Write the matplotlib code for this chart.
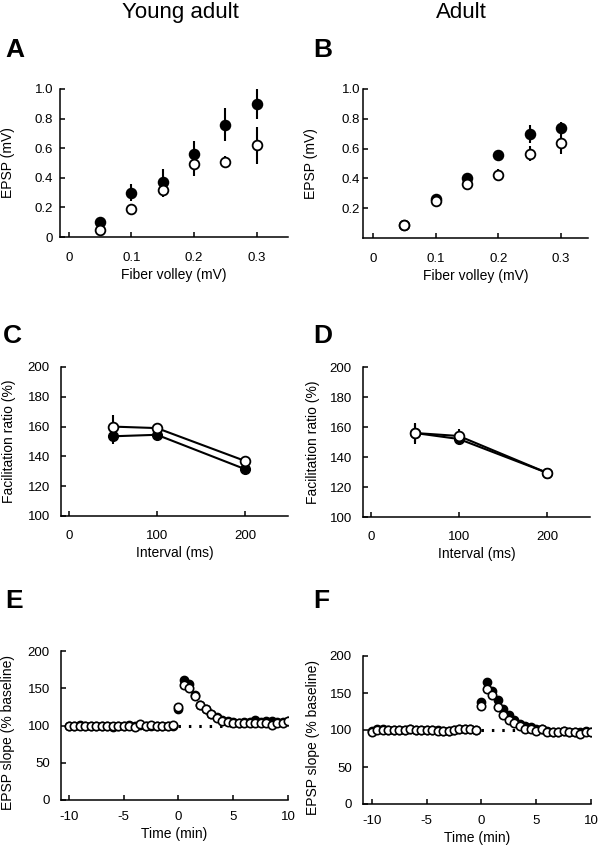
import numpy as np
import matplotlib
matplotlib.use("Agg")
import matplotlib.pyplot as plt

plt.rcParams['font.family'] = ['Liberation Sans', 'DejaVu Sans']
plt.rcParams['axes.unicode_minus'] = False

# --- data ---
fv = [0.05, 0.10, 0.15, 0.20, 0.25, 0.30]
# A: young adult, EPSP vs fiber volley
a_closed = [0.10, 0.30, 0.37, 0.56, 0.76, 0.90]
a_closed_err = [0.01, 0.055, 0.088, 0.09, 0.11, 0.105]
a_open = [0.05, 0.19, 0.32, 0.49, 0.51, 0.62]
a_open_err = [0.01, 0.015, 0.05, 0.08, 0.04, 0.125]
# B: adult
b_closed = [0.09, 0.26, 0.405, 0.56, 0.70, 0.74]
b_closed_err = [0.01, 0.02, 0.02, 0.03, 0.06, 0.04]
b_open = [0.09, 0.245, 0.36, 0.425, 0.565, 0.635]
b_open_err = [0.01, 0.02, 0.04, 0.04, 0.05, 0.07]

# C/D: paired-pulse facilitation
interval = [50, 100, 200]
c_closed = [153.5, 154.5, 131.5]
c_closed_err = [5, 3, 3]
c_open = [160, 159, 137]
c_open_err = [7.5, 3, 2]
d_closed = [156, 152, 129.5]
d_closed_err = [6, 3, 2]
d_open = [156, 154, 129.5]
d_open_err = [7, 5, 2]

# E/F: LTP time course, one point every 30 s
t = np.arange(-10, 10.5, 0.5)
e_open = [99, 99, 100, 100, 100, 100, 99, 99, 100, 100,
          100, 100, 98, 102, 100, 101, 100, 99, 100, 101,
          125, 154, 150, 140, 127, 122, 115, 110, 106, 105,
          104, 104, 104, 104, 104, 104, 103, 101, 104, 104, 106]
e_closed = [99, 100, 101, 100, 100, 99, 99, 100, 98, 100,
            100, 101, 99, 101, 100, 100, 100, 100, 99, 100,
            122, 161, 156, 141, 128, 122, 116, 111, 107, 106,
            105, 104, 105, 105, 108, 105, 106, 106, 105, 105, 106]
f_open = [97, 100, 100, 100, 100, 100, 100, 101, 100, 100,
          100, 100, 99, 99, 99, 100, 101, 101, 101, 100,
          132, 155, 147, 131, 120, 114, 109, 105, 101, 101,
          99, 101, 97, 97, 97, 98, 97, 97, 95, 97, 97]
f_closed = [98, 101, 101, 100, 100, 100, 100, 102, 100, 100,
            100, 100, 100, 99, 99, 100, 101, 101, 101, 100,
            138, 165, 153, 140, 128, 120, 114, 108, 106, 104,
            101, 101, 98, 97, 97, 98, 97, 97, 97, 98, 97]

W, H = 598, 852
fig = plt.figure(figsize=(W / 100, H / 100), dpi=100)

TICK = 9.5
LAB = 10


def add_ax(l, r, top, bot):
    return fig.add_axes([l / W, 1 - bot / H, (r - l) / W, (bot - top) / H])


def style(ax, xpad, ypad):
    for s in ['top', 'right']:
        ax.spines[s].set_visible(False)
    for s in ['left', 'bottom']:
        ax.spines[s].set_linewidth(1.1)
    ax.tick_params(direction='in', length=3.5, width=1.1, labelsize=TICK)
    ax.tick_params(axis='x', pad=xpad)
    ax.tick_params(axis='y', pad=ypad)


def errpts(ax, x, y, e, face, ms=7):
    ax.errorbar(x, y, yerr=e, fmt='none', ecolor='black', elinewidth=1.5, capsize=0)
    ax.plot(x, y, 'o', mfc=face, mec='black', mew=1.3, ms=ms, ls='none')


# A
axA = add_ax(60, 288, 89, 237)
errpts(axA, fv, a_closed, a_closed_err, 'black')
errpts(axA, fv, a_open, a_open_err, 'white')
axA.set_xlim(-0.014, 0.35)
axA.set_ylim(0, 1.0)
axA.set_xticks([0, 0.1, 0.2, 0.3])
axA.set_xticklabels(['0', '0.1', '0.2', '0.3'])
axA.set_yticks([0, 0.2, 0.4, 0.6, 0.8, 1.0])
axA.set_yticklabels(['0', '0.2', '0.4', '0.6', '0.8', '1.0'])
style(axA, 11, 5)

# B
axB = add_ax(363, 588, 89, 238)
errpts(axB, fv, b_closed, b_closed_err, 'black')
errpts(axB, fv, b_open, b_open_err, 'white')
axB.set_xlim(-0.016, 0.343)
axB.set_ylim(0, 1.0)
axB.set_xticks([0, 0.1, 0.2, 0.3])
axB.set_xticklabels(['0', '0.1', '0.2', '0.3'])
axB.set_yticks([0.2, 0.4, 0.6, 0.8, 1.0])
axB.set_yticklabels(['0.2', '0.4', '0.6', '0.8', '1.0'])
style(axB, 11, 2)

for ax in (axA, axB):
    ax.set_xlabel('Fiber volley (mV)', fontsize=LAB, labelpad=3)
    ax.set_ylabel('EPSP (mV)', fontsize=LAB)


def ppf(ax, yc, ec, yo, eo):
    ax.errorbar(interval, yc, yerr=ec, fmt='none', ecolor='black', elinewidth=1.5)
    ax.plot(interval, yc, 'o-', color='black', lw=1.5, ms=7)
    ax.errorbar(interval, yo, yerr=eo, fmt='none', ecolor='black', elinewidth=1.5)
    ax.plot(interval, yo, 'o-', color='black', mfc='white', mew=1.3, lw=1.5, ms=7)
    ax.set_xlim(-9, 249)
    ax.set_ylim(100, 200)
    ax.set_xticks([0, 100, 200])
    ax.set_yticks([100, 120, 140, 160, 180, 200])
    ax.set_xlabel('Interval (ms)', fontsize=LAB, labelpad=3)
    ax.set_ylabel('Facilitation ratio (%)', fontsize=LAB)
    style(ax, 10, 8)


axC = add_ax(61, 288, 367, 516)
ppf(axC, c_closed, c_closed_err, c_open, c_open_err)
axD = add_ax(363, 590, 367, 517)
ppf(axD, d_closed, d_closed_err, d_open, d_open_err)


def ltp(ax, yc, yo):
    ax.plot([0, 10], [100, 100], color='black', lw=2.2, ls=(0, (0.8, 2.6)), zorder=1)
    ax.plot(t, yc, 'o', color='black', ms=6, zorder=2)
    ax.plot(t, yo, 'o', mfc='white', mec='black', mew=1.2, ms=6, zorder=3)
    ax.set_ylim(0, 200)
    ax.set_xticks([-10, -5, 0, 5, 10])
    ax.set_yticks([0, 50, 100, 150, 200])
    ax.set_xlabel('Time (min)', fontsize=LAB, labelpad=3)
    ax.set_ylabel('EPSP slope (% baseline)', fontsize=LAB)
    style(ax, 8, 8)


axE = add_ax(61, 288, 651, 800)
ltp(axE, e_closed, e_open)
axE.set_xlim(-10.73, 10)
axF = add_ax(363, 591, 656, 804)
ltp(axF, f_closed, f_open)
axF.set_xlim(-10.8, 10)

# y-label positions (right edge of rotated text)
for ax, l, r, xr in [(axA, 60, 288, 15), (axB, 363, 588, 318),
                     (axC, 61, 288, 16), (axD, 363, 590, 320),
                     (axE, 61, 288, 15), (axF, 363, 591, 320)]:
    ax.yaxis.set_label_coords((xr - l) / (r - l), 0.5)
axE.yaxis.set_label_coords((15 - 61) / (288 - 61), 0.45)
axF.yaxis.set_label_coords((320 - 363) / (591 - 363), 0.45)

# column titles and panel letters
fig.text(180 / W, 1 - 18 / H, 'Young adult', fontsize=16, ha='center', va='baseline')
fig.text(461 / W, 1 - 18 / H, 'Adult', fontsize=16, ha='center', va='baseline')
for lab, x, y in [('A', 5, 57), ('B', 313, 57), ('C', 3, 343),
                  ('D', 313, 343), ('E', 5, 608), ('F', 313, 608)]:
    fig.text(x / W, 1 - y / H, lab, fontsize=19, fontweight='bold',
             ha='left', va='baseline')

fig.savefig('out.png', dpi=100)
